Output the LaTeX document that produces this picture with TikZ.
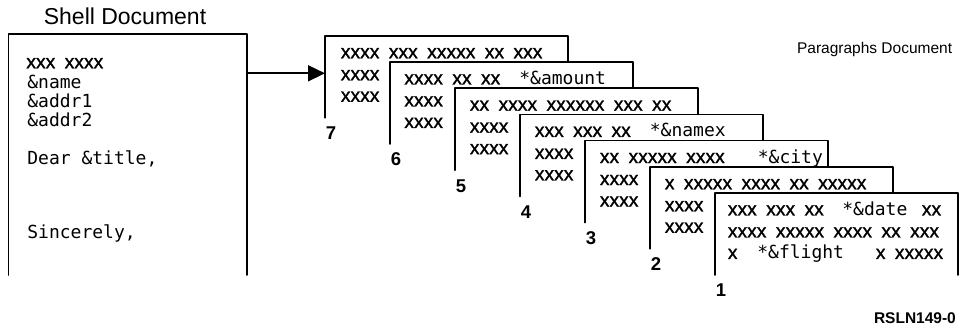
\documentclass[tikz,border=0pt]{standalone}
\usepackage{fontspec}
\setmainfont{Liberation Sans}
\newfontfamily\xsans[WordSpace=1.75,FakeBold=1.2]{Liberation Sans}
\newfontfamily\mono{DejaVu Sans Mono}
\usetikzlibrary{arrows.meta}

\tikzset{
  xs/.style={font=\xsans\fontsize{19.3}{22}\selectfont,inner sep=0pt,anchor=base west},
  tt/.style={font=\mono\fontsize{18}{20}\selectfont,inner sep=0pt,anchor=base west},
  cardnum/.style={font=\bfseries\fontsize{18.5}{20}\selectfont,inner sep=0pt,anchor=base west},
  card/.style={fill=white}
}

\begin{document}
\begin{tikzpicture}[x=1pt,y=-1pt,line cap=round,line join=round,line width=1.7pt]
  \useasboundingbox (0,0) rectangle (963,328);

  % titles
  \node[font=\fontsize{23}{26}\selectfont,inner sep=0pt,anchor=base west] (shelltitle) at (43,25) {Shell Document};
  \node[font=\fontsize{15.5}{18}\selectfont,inner sep=0pt,anchor=base east] (paratitle) at (953,53.3) {Paragraphs Document};
  \node[font=\bfseries\fontsize{15.5}{18}\selectfont,inner sep=0pt,anchor=base east] (figid) at (956.7,323.3) {RSLN149-0};

  % shell document (open at the bottom)
  \draw (8.5,275) -- (8.5,34) -- (246.7,34) -- (246.7,275);
  \node[xs] (s1) at (25.5,68.3) {xxx xxxx};
  \node[tt] (s2) at (26.5,88.3) {\&name};
  \node[tt] (s3) at (26.5,107.3) {\&addr1};
  \node[tt] (s4) at (26.5,126.7) {\&addr2};
  \node[tt] (s5) at (26.5,165) {Dear \&title,};
  \node[tt] (s6) at (26.5,239) {Sincerely,};

  % card 7
  \fill[card] (325,35.8) rectangle (568,117.8);
  \draw (325,117.8) -- (325,35.8) -- (568,35.8) -- (568,117.8);
  \node[xs] (c7a) at (340,58.3) {xxxx xxx xxxxx xx xxx};
  \node[xs] (c7b) at (340,80.3) {xxxx};
  \node[xs] (c7c) at (340,101.8) {xxxx};
  \node[cardnum] (n7) at (325,139.8) {7};

  % card 6
  \fill[card] (390,62) rectangle (633,144);
  \draw (390,144) -- (390,62) -- (633,62) -- (633,144);
  \node[xs] (c6a) at (403.5,84.5) {xxxx xx xx};
  \node[tt] (c6m) at (518.5,84.5) {*\&amount};
  \node[xs] (c6b) at (403.5,106.5) {xxxx};
  \node[xs] (c6c) at (403.5,128) {xxxx};
  \node[cardnum] (n6) at (390,166) {6};

  % card 5
  \fill[card] (455,88.2) rectangle (698,170.2);
  \draw (455,170.2) -- (455,88.2) -- (698,88.2) -- (698,170.2);
  \node[xs] (c5a) at (469,110.7) {xx xxxx xxxxxx xxx xx};
  \node[xs] (c5b) at (469,132.7) {xxxx};
  \node[xs] (c5c) at (469,154.2) {xxxx};
  \node[cardnum] (n5) at (455,192.2) {5};

  % card 4
  \fill[card] (520,114.4) rectangle (763,196.4);
  \draw (520,196.4) -- (520,114.4) -- (763,114.4) -- (763,196.4);
  \node[xs] (c4a) at (534,136.9) {xxx xxx xx};
  \node[tt] (c4m) at (649,136.9) {*\&namex};
  \node[xs] (c4b) at (534,158.9) {xxxx};
  \node[xs] (c4c) at (534,180.4) {xxxx};
  \node[cardnum] (n4) at (520,218.4) {4};

  % card 3
  \fill[card] (585,140.6) rectangle (828,222.6);
  \draw (585,222.6) -- (585,140.6) -- (828,140.6) -- (828,222.6);
  \node[xs] (c3a) at (599,163.1) {xx xxxxx xxxx};
  \node[tt] (c3m) at (757,163.1) {*\&city};
  \node[xs] (c3b) at (599,185.1) {xxxx};
  \node[xs] (c3c) at (599,206.6) {xxxx};
  \node[cardnum] (n3) at (585,244.6) {3};

  % card 2
  \fill[card] (650,166.8) rectangle (893,248.8);
  \draw (650,248.8) -- (650,166.8) -- (893,166.8) -- (893,248.8);
  \node[xs] (c2a) at (664,189.3) {x xxxxx xxxx xx xxxxx};
  \node[xs] (c2b) at (664,211.3) {xxxx};
  \node[xs] (c2c) at (664,232.8) {xxxx};
  \node[cardnum] (n2) at (650,270.8) {2};

  % card 1 (front)
  \fill[card] (715,193) rectangle (958,275);
  \draw (715,275) -- (715,193) -- (958,193) -- (958,275);
  \node[xs] (c1a) at (727,215.5) {xxx xxx xx};
  \node[tt] (c1m) at (841.5,215.5) {*\&date};
  \node[xs] (c1d) at (921,215.5) {xx};
  \node[xs] (c1b) at (727,237.5) {xxxx xxxxx xxxx xx xxx};
  \node[xs] (c1c) at (727,259) {x};
  \node[tt] (c1f) at (756.5,259) {*\&flight};
  \node[xs] (c1e) at (875,259) {x xxxxx};
  \node[cardnum] (n1) at (715,297) {1};

  % shell to paragraphs
  \coordinate (shell-e) at (246.7,73.3);
  \coordinate (card7-w) at (325,73.3);
  \draw[-{Triangle[length=17pt,width=16pt]}] (shell-e) -- (card7-w);
\end{tikzpicture}
\end{document}
